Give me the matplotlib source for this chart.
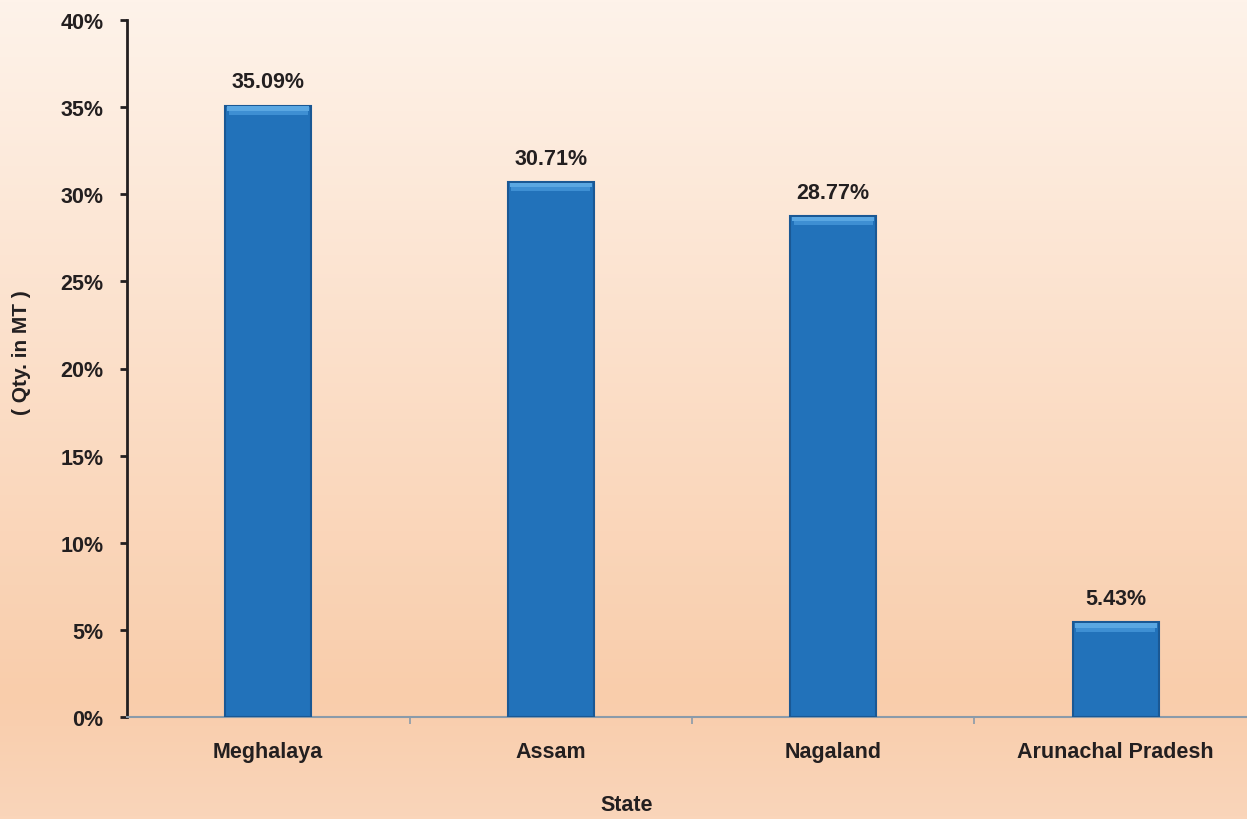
import numpy as np
import matplotlib.pyplot as plt
from matplotlib.colors import LinearSegmentedColormap

states = ['Meghalaya', 'Assam', 'Nagaland', 'Arunachal Pradesh']
shares = [35.09, 30.71, 28.77, 5.43]
labels = ['35.09%', '30.71%', '28.77%', '5.43%']
yticks = [0, 5, 10, 15, 20, 25, 30, 35, 40]

plt.rcParams['font.family'] = ['Liberation Sans', 'DejaVu Sans']
plt.rcParams['font.weight'] = 'bold'
txt = '#231F20'

fig = plt.figure(figsize=(12.47, 8.20), dpi=100)

# peach gradient background
bg = fig.add_axes([0, 0, 1, 1], zorder=-1)
cmap = LinearSegmentedColormap.from_list(
    'peach', [(0, '#FEF3EA'), (0.85, '#F9CDAB'), (1, '#FAD5BA')])
bg.imshow(np.linspace(0, 1, 256).reshape(-1, 1), aspect='auto', cmap=cmap, extent=[0, 1, 0, 1])
bg.axis('off')

ax = fig.add_axes([127 / 1247, 102 / 820, 1130 / 1247, 697 / 820])
ax.patch.set_alpha(0)
x = np.arange(len(states))
h = np.array(shares)
ax.bar(x, h, width=0.305, color='#2272BA', edgecolor='#1A5894', linewidth=1.5, zorder=3)
# bevel highlight on top of each bar
ax.bar(x, 0.25, bottom=h - 0.3, width=0.29, color='#5AA7E2', linewidth=0, zorder=4)
ax.bar(x, 0.25, bottom=h - 0.55, width=0.28, color='#3E8FD3', linewidth=0, zorder=4)
for xi, v, t in zip(x, shares, labels):
    ax.text(xi, v + 0.75, t, ha='center', va='bottom', fontsize=15.5, fontweight='bold', color=txt)

ax.set_xlim(-0.5, 3.5)
ax.set_ylim(0, 40)
ax.set_yticks(yticks)
ax.set_yticklabels([f'{t}%' for t in yticks])
ax.set_xticks(x)
ax.set_xticklabels(states)
ax.set_xticks(np.arange(0.5, 3.6, 1), minor=True)
ax.tick_params(axis='x', which='major', length=0, pad=17, labelsize=15.5, labelcolor=txt)
ax.tick_params(axis='x', which='minor', length=5, color='#8A9BAA', width=1.2)
ax.tick_params(axis='y', length=5, width=2, color=txt, labelsize=15.5, labelcolor=txt, pad=12)
for s in ['top', 'right']:
    ax.spines[s].set_visible(False)
ax.spines['left'].set_linewidth(2)
ax.spines['left'].set_color(txt)
ax.spines['bottom'].set_color('#8A9BAA')
ax.spines['bottom'].set_linewidth(1.5)

fig.text(22 / 1247, 1 - 353 / 820, '( Qty. in MT )', rotation=90, ha='center', va='center',
         fontsize=15, fontweight='bold', color=txt)
fig.text(627 / 1247, 1 - 806 / 820, 'State', ha='center', va='center',
         fontsize=15.5, fontweight='bold', color=txt)

fig.savefig('out.png', dpi=100)
